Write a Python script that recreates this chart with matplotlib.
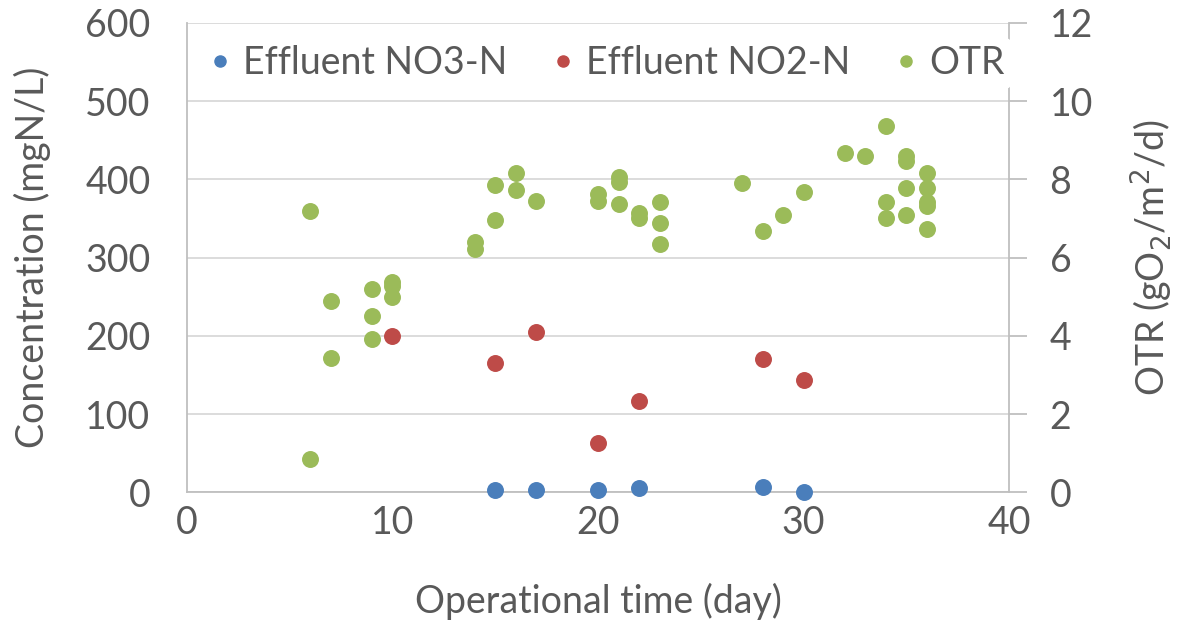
import matplotlib
matplotlib.use("Agg")
import matplotlib.pyplot as plt
from matplotlib.lines import Line2D

# ---------- data ----------
no3_day = [15, 17, 20, 22, 28, 30]
no3_conc = [3, 3, 3.5, 5.5, 6.4, 0]

no2_day = [10, 15, 17, 20, 22, 28, 30]
no2_conc = [200, 165, 205, 63, 117, 171, 143]

otr_day = [6, 6, 7, 7, 9, 9, 9, 10, 10, 10,
           14, 14, 15, 15, 16, 16, 17,
           20, 20, 21, 21, 21, 22, 22, 23, 23, 23,
           27, 28, 29, 30, 32, 33,
           34, 34, 34, 35, 35, 35, 35,
           36, 36, 36, 36, 36]
otr_val = [7.18, 0.85, 4.89, 3.44, 5.19, 4.51, 3.92, 5.38, 5.28, 4.99,
           6.41, 6.22, 7.86, 6.97, 8.16, 7.72, 7.44,
           7.63, 7.46, 8.06, 7.94, 7.38, 7.14, 7.01, 7.42, 6.88, 6.36,
           7.90, 6.69, 7.09, 7.68, 8.68, 8.59,
           9.36, 7.43, 7.02, 8.59, 8.46, 7.78, 7.09,
           8.16, 7.79, 7.41, 7.33, 6.74]

C_NO3 = "#4A7EBB"
C_NO2 = "#BE4B48"
C_OTR = "#9BBB59"
TXT = "#595959"
GRID = "#D9D9D9"
AXL = "#BFBFBF"

plt.rcParams["font.family"] = ["Lato", "DejaVu Sans"]

fig = plt.figure(figsize=(11.78, 6.30), dpi=100)
ax = fig.add_axes([0.1585, 0.2186, 0.6983, 0.7449])
ax2 = ax.twinx()

ms = 125
ax.scatter(no3_day, no3_conc, s=ms, color=C_NO3, zorder=3, clip_on=False)
ax.scatter(no2_day, no2_conc, s=ms, color=C_NO2, zorder=3)
ax2.scatter(otr_day, otr_val, s=ms, color=C_OTR, zorder=3)

ax.set_xlim(0, 40)
ax.set_ylim(0, 600)
ax2.set_ylim(0, 12)
ax.set_xticks(range(0, 41, 10))
ax.set_yticks(range(0, 601, 100))
ax2.set_yticks(range(0, 13, 2))

ax.grid(axis="y", color=GRID, linewidth=1.3)
ax.set_axisbelow(True)
ax.spines["top"].set_visible(False)
ax2.spines["top"].set_visible(False)
ax.spines["right"].set_visible(False)
ax2.spines["left"].set_visible(False)
ax2.spines["bottom"].set_visible(False)
ax.spines["left"].set_color(AXL)
ax.spines["bottom"].set_color(AXL)
ax2.spines["right"].set_color(AXL)
for s in ("left", "bottom"):
    ax.spines[s].set_linewidth(1.3)
ax2.spines["right"].set_linewidth(1.3)

FS = 27
ax.tick_params(axis="y", length=0, labelsize=FS, labelcolor=TXT, pad=26)
ax.tick_params(axis="x", length=0, labelsize=FS, labelcolor=TXT, pad=9)
ax2.tick_params(axis="y", length=13, width=1.3, color=AXL, labelsize=FS,
                labelcolor=TXT, pad=16)

ax.set_xlabel("Operational time (day)", fontsize=FS, color=TXT, labelpad=30)
ax.set_ylabel("Concentration (mgN/L)", fontsize=FS, color=TXT, labelpad=25)
ax2.set_ylabel("OTR (gO$_2$/m$^2$/d)", fontsize=FS, color=TXT, labelpad=26)

handles = [
    Line2D([], [], marker="o", linestyle="", color=C_NO3, markersize=8, label="Effluent NO3-N"),
    Line2D([], [], marker="o", linestyle="", color=C_NO2, markersize=8, label="Effluent NO2-N"),
    Line2D([], [], marker="o", linestyle="", color=C_OTR, markersize=8, label="OTR"),
]
leg = ax2.legend(handles=handles, loc="upper center", bbox_to_anchor=(0.506, 0.985),
                 ncol=3, frameon=True, fontsize=FS, handletextpad=0.1,
                 columnspacing=1.0, borderaxespad=0.2, borderpad=0.2,
                 handlelength=1.0)
leg.get_frame().set_facecolor("white")
leg.get_frame().set_edgecolor("none")
leg.get_frame().set_alpha(1.0)
for t in leg.get_texts():
    t.set_color(TXT)

fig.savefig("out.png", dpi=100, facecolor="white")
